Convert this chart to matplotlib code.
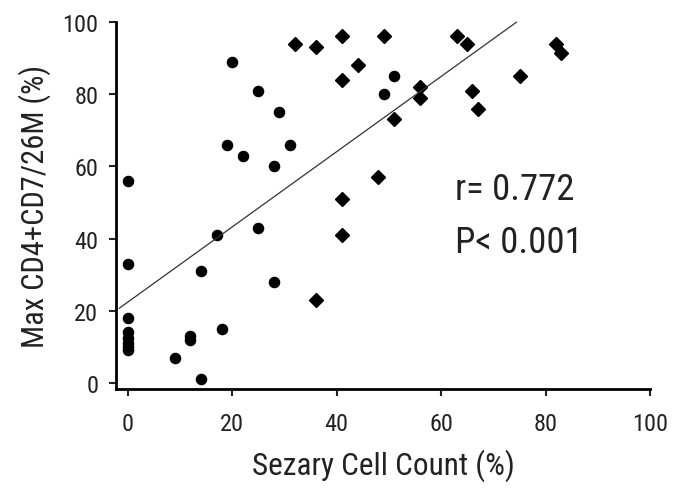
import numpy as np
import matplotlib
matplotlib.use("Agg")
import matplotlib.pyplot as plt

plt.rcParams['font.family'] = ['Roboto Condensed', 'Liberation Sans', 'DejaVu Sans']

# circles
circ_x = [0, 0, 0, 0, 0, 0, 0, 0, 9, 12, 12, 14, 14, 17, 18, 19, 20, 22, 25, 25,
          28, 28, 29, 31, 49, 51]
circ_y = [56, 33, 18, 14, 12.5, 11, 10, 9, 7, 13, 12, 1, 31, 41, 15, 66, 89, 63, 81, 43,
          60, 28, 75, 66, 80, 85]

# diamonds
diam_x = [32, 36, 36, 41, 41, 41, 41, 44, 48, 49, 51, 56, 56, 63, 65, 66, 67, 75, 82, 83]
diam_y = [94, 93, 23, 96, 84, 51, 41, 88, 57, 96, 73, 82, 79, 96, 94, 81, 76, 85, 94, 91.5]

# regression line
line_x = [-1.6, 74.4]
intercept = 22.4
slope = 1.042

fig = plt.figure(figsize=(6.8, 4.89), dpi=100)
ax = fig.add_axes([0.171, 0.2015, 0.785, 0.7515])

ax.plot(circ_x, circ_y, ls="", marker="o", ms=7.3, color="black", clip_on=False)
ax.plot(diam_x, diam_y, ls="", marker="D", ms=6.8, color="black", clip_on=False)
lx = np.array(line_x)
ax.plot(lx, intercept + slope * lx, color="#333333", lw=0.9, clip_on=False)

ax.set_xlim(-2.2, 100)
ax.set_ylim(-1.8, 100)
ax.set_xticks([0, 20, 40, 60, 80, 100])
ax.set_yticks([0, 20, 40, 60, 80, 100])

for s in ["top", "right"]:
    ax.spines[s].set_visible(False)
for s in ["left", "bottom"]:
    ax.spines[s].set_linewidth(2)
ax.tick_params(direction="out", length=5, width=1.5, labelsize=17.5, colors="#222222")
ax.tick_params(axis="x", pad=11)
ax.tick_params(axis="y", pad=8)

ax.set_xlabel("Sezary Cell Count (%)", fontsize=22.5, color="#222222", labelpad=10)
ax.set_ylabel("Max CD4+CD7/26M (%)", fontsize=22, color="#222222", labelpad=8)

ax.text(455/680, 1 - 200/489, "r= 0.772", transform=fig.transFigure, fontsize=26.5,
        color="#222222", ha="left", va="baseline")
ax.text(455/680, 1 - 253/489, "P< 0.001", transform=fig.transFigure, fontsize=26.5,
        color="#222222", ha="left", va="baseline")

fig.savefig("out.png", dpi=100)
